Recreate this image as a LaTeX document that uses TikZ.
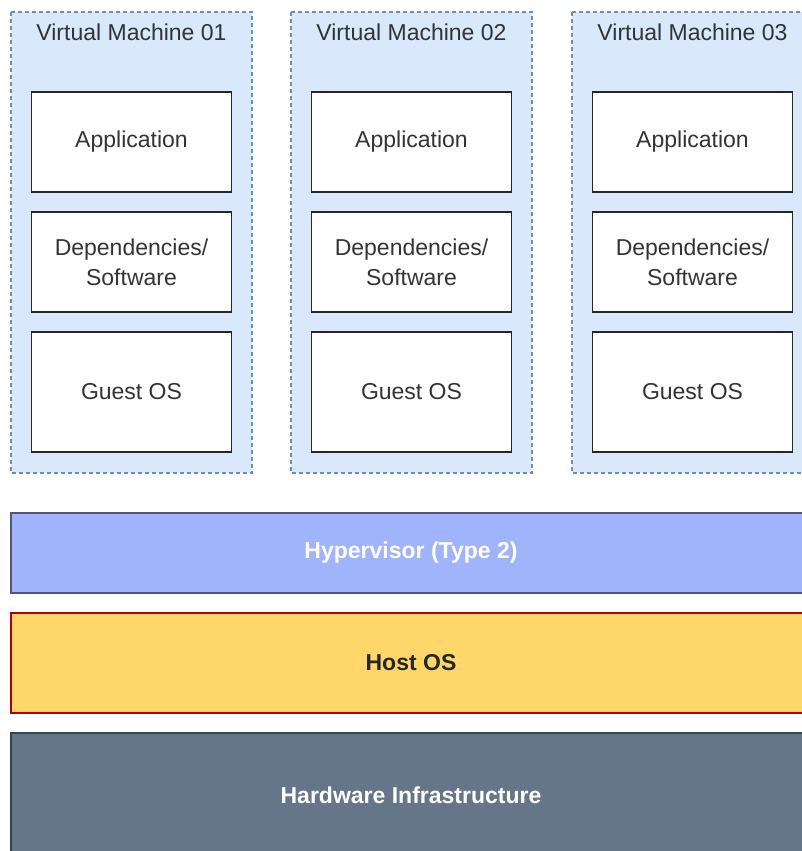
\documentclass[tikz,border=0pt]{standalone}
\usepackage{fontspec}
\setmainfont{Liberation Sans}
\begin{document}
\begin{tikzpicture}[x=1pt,y=-1pt,
  vmbox/.style={draw=vmline,fill=vmfill,dashed,dash pattern=on 4pt off 3pt,line width=1.3pt},
  layerbox/.style={draw=black!85,fill=white,line width=1.6pt,minimum width=200pt,minimum height=#1,inner sep=0pt,align=center,font=\fontsize{23}{30}\selectfont,text=black!80},
  vmtitle/.style={font=\fontsize{23}{28}\selectfont,text=black!80,inner sep=0pt},
  bar/.style={line width=1.6pt,minimum width=800pt,minimum height=80pt,inner sep=0pt,font=\bfseries\fontsize{23}{28}\selectfont}
]
\definecolor{vmfill}{HTML}{DAE8FC}
\definecolor{vmline}{HTML}{6C8EBF}
\definecolor{hypfill}{HTML}{9FB4FA}
\definecolor{hypline}{HTML}{56517E}
\definecolor{hostfill}{HTML}{FDD76A}
\definecolor{hostline}{HTML}{B20000}
\definecolor{hwfill}{HTML}{647687}
\definecolor{hwline}{HTML}{314354}
\useasboundingbox (0,0) rectangle (802,851);
\clip (0,0) rectangle (802,851);
\foreach \i/\x/\t in {1/11/01,2/291/02,3/572/03}{
  \draw[vmbox] (\x,12) rectangle ++(241,461);
  \node[vmtitle] (vm\i) at (\x+120.5,32) {Virtual Machine \t};
  \node[layerbox=100pt] (app\i) at (\x+120.5,142) {Application};
  \node[layerbox=100pt] (dep\i) at (\x+120.5,262) {Dependencies/\\Software};
  \node[layerbox=120pt] (gos\i) at (\x+120.5,392) {Guest OS};
}
\node[bar,draw=hypline,fill=hypfill,text=white] (hyp) at (411,553) {Hypervisor (Type 2)};
\node[bar,draw=hostline,fill=hostfill,text=black!85,minimum height=100pt] (host) at (411,663) {Host OS};
\node[bar,draw=hwline,fill=hwfill,text=white,minimum height=124pt] (hw) at (411,795) {Hardware Infrastructure};
\end{tikzpicture}
\end{document}
